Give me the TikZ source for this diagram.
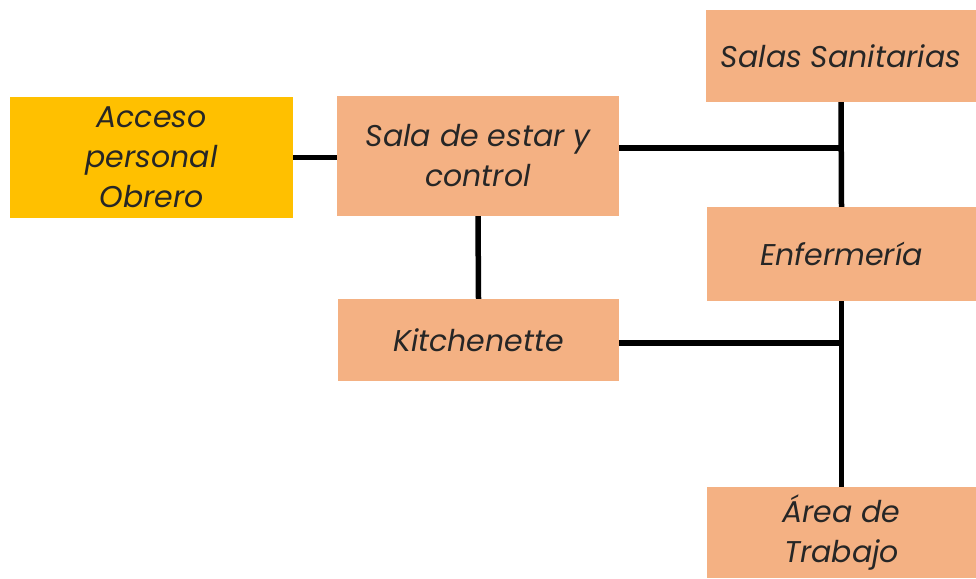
\documentclass[tikz,border=0pt]{standalone}
\usepackage{fontspec}
\setmainfont{Poppins}
\definecolor{salmon}{HTML}{F4B183}
\definecolor{gold}{HTML}{FFC000}
\begin{document}
\begin{tikzpicture}[x=1pt,y=1pt,font=\fontsize{30}{40}\selectfont\itshape,
  room/.style={fill=salmon,draw=none,inner sep=0pt,align=center,text=black!85},
  link/.style={line width=5.5pt,black}]
\useasboundingbox (0,0) rectangle (976,-578);
\node[room,fill=gold,minimum width=283,minimum height=121] (acceso) at (151.5,-157.5) {Acceso\\personal\\Obrero};
\node[room,minimum width=282,minimum height=120] (sala) at (478,-156) {Sala de estar y\\control};
\node[room,minimum width=270,minimum height=92] (sanit) at (841,-56) {Salas Sanitarias};
\node[room,minimum width=269,minimum height=94] (enfer) at (841.5,-254) {Enfermería};
\node[room,minimum width=281,minimum height=82] (kitch) at (478.5,-340) {Kitchenette};
\node[room,minimum width=269,minimum height=91] (area) at (841.5,-532.5) {Área de\\Trabajo};
\coordinate (j1) at (842,-148);
\coordinate (j2) at (842,-343);
\draw[link] (acceso.east) -- (acceso.east -| sala.west);
\draw[link] (sala.south) -- (kitch.north);
\draw[link] (sanit.south) -- (enfer.north);
\draw[link] (enfer.south) -- (area.north);
\draw[link] (j1 -| sala.east) -- (j1);
\draw[link] (j2 -| kitch.east) -- (j2);
\end{tikzpicture}
\end{document}
